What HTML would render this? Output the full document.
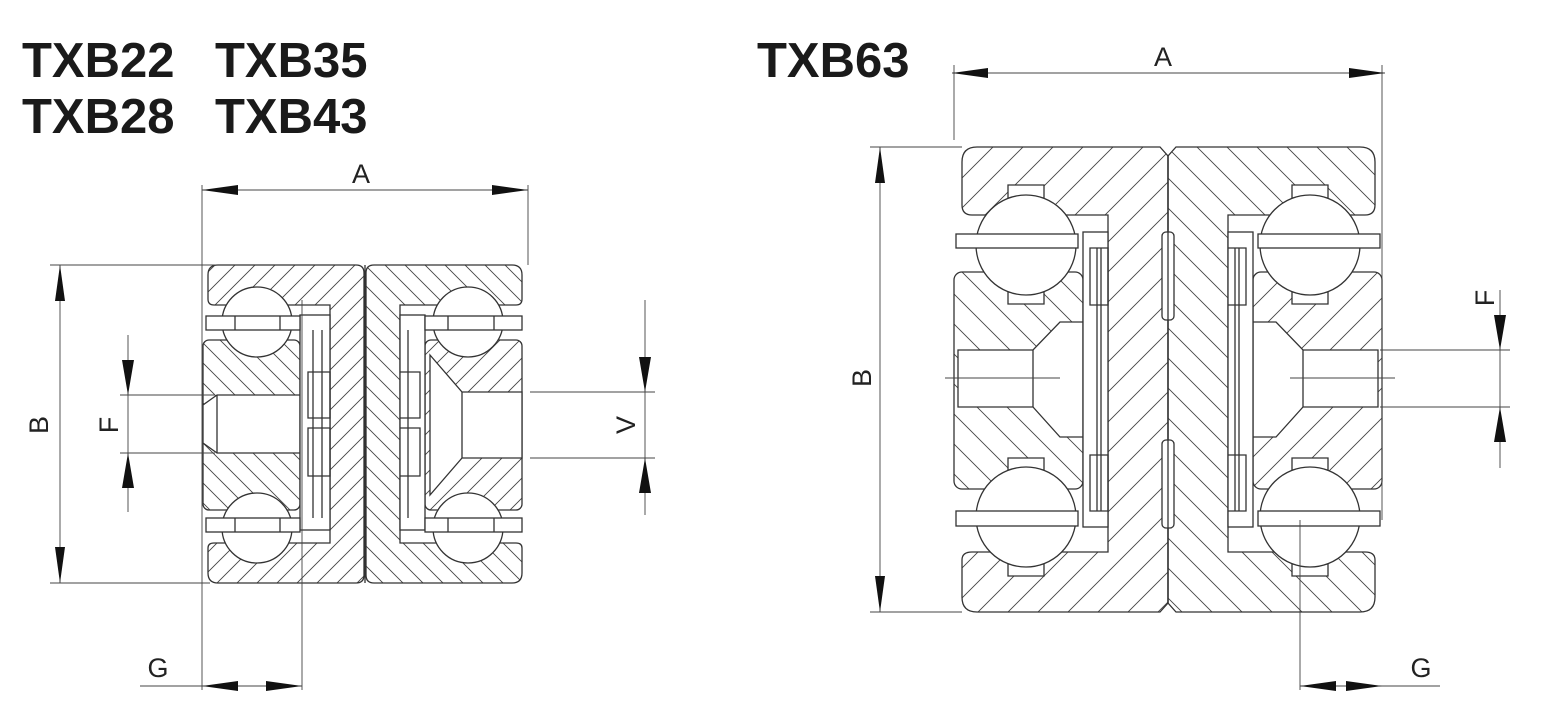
<!DOCTYPE html>
<html><head><meta charset="utf-8"><style>
html,body{margin:0;padding:0;background:#fff}
svg{display:block}
.t{font-family:"Liberation Sans",sans-serif;font-weight:bold;font-size:49px;fill:#1a1a1a}
.d{font-family:"Liberation Sans",sans-serif;font-size:27px;fill:#222}
.o{stroke:#333;stroke-width:1.3;fill:none}
.w{stroke:#333;stroke-width:1.3;fill:#fff}
.dl{stroke:#444;stroke-width:0.9;fill:none}
</style></head><body>
<svg width="1541" height="717" viewBox="0 0 1541 717" xmlns="http://www.w3.org/2000/svg">
<defs>
<pattern id="hf" patternUnits="userSpaceOnUse" width="20" height="20"><path d="M-4,24 L24,-4 M-4,4 L4,-4 M16,24 L24,16" stroke="#444" stroke-width="0.9"/></pattern>
<pattern id="hb" patternUnits="userSpaceOnUse" width="20" height="20"><path d="M-4,-4 L24,24 M-4,16 L4,24 M16,-4 L24,4" stroke="#444" stroke-width="0.9"/></pattern>
<pattern id="Hf" patternUnits="userSpaceOnUse" width="30" height="30"><path d="M-4,34 L34,-4 M-4,4 L4,-4 M26,34 L34,26" stroke="#444" stroke-width="0.9"/></pattern>
<pattern id="Hb" patternUnits="userSpaceOnUse" width="30" height="30"><path d="M-4,-4 L34,34 M-4,26 L4,34 M26,-4 L34,4" stroke="#444" stroke-width="0.9"/></pattern>
<marker id="ar" markerUnits="userSpaceOnUse" markerWidth="36" markerHeight="14" refX="36" refY="7" orient="auto-start-reverse"><path d="M0,2 L36,7 L0,12 Z" fill="#111"/></marker>
</defs>

<text class="t" x="22" y="77">TXB22</text><text class="t" x="215" y="77">TXB35</text>
<text class="t" x="22" y="133">TXB28</text><text class="t" x="215" y="133">TXB43</text>
<text class="t" x="757" y="77">TXB63</text>

<!-- LEFT drawing -->
<path class="o" style="fill:url(#hf)" d="M218,265 H356 Q364,265 364,273 V575 Q364,583 356,583 H218 Q208,583 208,573 V548 Q208,543 214,543 H330 V305 H214 Q208,305 208,299 V275 Q208,265 218,265 Z"/>
<path class="o" style="fill:url(#hb)" d="M374,265 H512 Q522,265 522,275 V299 Q522,305 516,305 H400 V543 H516 Q522,543 522,548 V573 Q522,583 512,583 H374 Q366,583 366,575 V273 Q366,265 374,265 Z"/>
<rect class="o" style="fill:url(#hb)" x="203" y="340" width="97" height="170" rx="6"/>
<path class="w" d="M217,395 L203,405 V443 L217,453 H300 V395 Z"/>
<line class="o" x1="217" y1="395" x2="217" y2="453"/>
<rect class="o" style="fill:url(#hf)" x="425" y="340" width="97" height="170" rx="6"/>
<path class="w" d="M430,355 L462,392 H522 V458 H462 L430,495 Z"/>
<line class="o" x1="462" y1="392" x2="462" y2="458"/>
<rect class="w" x="300" y="315" width="30" height="215"/>
<path class="o" d="M313,330 V518 M322,330 V518 M308,372 H330 V418 H308 Z M308,428 H330 V476 H308 Z"/>
<rect class="w" x="400" y="315" width="25" height="215"/>
<path class="o" d="M408,330 V518 M400,372 H420 V418 H400 M400,428 H420 V476 H400"/>
<circle class="w" cx="257" cy="322" r="35"/><circle class="w" cx="257" cy="528" r="35"/>
<circle class="w" cx="468" cy="322" r="35"/><circle class="w" cx="468" cy="528" r="35"/>
<rect class="w" x="206" y="316" width="94" height="14"/><rect class="w" x="206" y="518" width="94" height="14"/>
<rect class="w" x="425" y="316" width="97" height="14"/><rect class="w" x="425" y="518" width="97" height="14"/>
<path class="o" d="M235,316 V330 M280,316 V330 M235,518 V532 M280,518 V532 M448,316 V330 M494,316 V330 M448,518 V532 M494,518 V532"/>
<line class="o" x1="365" y1="265" x2="365" y2="583"/>
<!-- left dims -->
<path class="dl" d="M202,185 V690 M528,185 V265 M50,265 H215 M50,583 H210 M120,395 H215 M120,453 H215 M530,392 H655 M530,458 H655 M302,300 V690 M128,335 V512 M645,300 V515 M140,686 H202"/>
<line class="dl" x1="202" y1="190" x2="528" y2="190" marker-start="url(#ar)" marker-end="url(#ar)"/>
<line class="dl" x1="60" y1="265" x2="60" y2="583" marker-start="url(#ar)" marker-end="url(#ar)"/>
<line class="dl" x1="202" y1="686" x2="302" y2="686" marker-start="url(#ar)" marker-end="url(#ar)"/>
<path fill="#111" d="M122,360 L128,395 L134,360 Z M122,488 L128,453 L134,488 Z M639,357 L645,392 L651,357 Z M639,493 L645,458 L651,493 Z"/>
<text class="d" x="361" y="183" text-anchor="middle">A</text>
<text class="d" x="158" y="677" text-anchor="middle">G</text>
<text class="d" transform="translate(48,425) rotate(-90)" text-anchor="middle">B</text>
<text class="d" transform="translate(118,425) rotate(-90)" text-anchor="middle">F</text>
<text class="d" transform="translate(635,425) rotate(-90)" text-anchor="middle">V</text>

<!-- RIGHT drawing -->
<path class="o" style="fill:url(#Hf)" d="M977,147 H1160 L1168,156 V603 L1160,612 H977 Q962,612 962,597 V560 Q962,552 972,552 H1108 V215 H972 Q962,215 962,205 V162 Q962,147 977,147 Z"/>
<path class="o" style="fill:url(#Hb)" d="M1176,147 H1360 Q1375,147 1375,162 V205 Q1375,215 1365,215 H1228 V552 H1365 Q1375,552 1375,560 V597 Q1375,612 1360,612 H1176 L1168,603 V156 Z"/>
<rect class="o" style="fill:url(#Hb)" x="954" y="272" width="129" height="217" rx="8"/>
<path class="w" d="M958,350 H1033 L1060,322 H1083 V437 H1060 L1033,407 H958 Z"/>
<line class="o" x1="1033" y1="350" x2="1033" y2="407"/>
<rect class="o" style="fill:url(#Hf)" x="1253" y="272" width="129" height="217" rx="8"/>
<path class="w" d="M1378,350 H1303 L1276,322 H1253 V437 H1276 L1303,407 H1378 Z"/>
<line class="o" x1="1303" y1="350" x2="1303" y2="407"/>
<rect class="w" x="1083" y="232" width="25" height="295"/>
<path class="o" d="M1097,248 V511 M1101,248 V511 M1090,248 H1108 V305 H1090 Z M1090,455 H1108 V511 H1090 Z"/>
<rect class="w" x="1228" y="232" width="25" height="295"/>
<path class="o" d="M1239,248 V511 M1235,248 V511 M1228,248 H1246 V305 H1228 M1228,455 H1246 V511 H1228"/>
<rect class="w" x="1162" y="232" width="12" height="88" rx="4"/>
<rect class="w" x="1162" y="440" width="12" height="88" rx="4"/>
<path class="w" d="M1008,198 V185 H1044 V198 Z M1008,292 V304 H1044 V292 Z M1008,470 V458 H1044 V470 Z M1008,564 V576 H1044 V564 Z M1292,198 V185 H1328 V198 Z M1292,292 V304 H1328 V292 Z M1292,470 V458 H1328 V470 Z M1292,564 V576 H1328 V564 Z"/>
<circle class="w" cx="1026" cy="245" r="50"/><circle class="w" cx="1026" cy="517" r="50"/>
<circle class="w" cx="1310" cy="245" r="50"/><circle class="w" cx="1310" cy="517" r="50"/>
<rect class="w" x="956" y="234" width="122" height="14"/><rect class="w" x="956" y="511" width="122" height="15"/>
<rect class="w" x="1258" y="234" width="122" height="14"/><rect class="w" x="1258" y="511" width="122" height="15"/>
<line class="o" x1="1168" y1="156" x2="1168" y2="603"/>
<!-- right dims -->
<path class="dl" d="M954,65 V140 M1382,65 V520 M870,147 H962 M870,612 H962 M1380,350 H1510 M1380,407 H1510 M1300,520 V690 M1500,290 V468 M1382,686 H1440 M945,378 H1060 M1290,378 H1395"/>
<line class="dl" x1="952" y1="73" x2="1385" y2="73" marker-start="url(#ar)" marker-end="url(#ar)"/>
<line class="dl" x1="880" y1="147" x2="880" y2="612" marker-start="url(#ar)" marker-end="url(#ar)"/>
<line class="dl" x1="1300" y1="686" x2="1382" y2="686" marker-start="url(#ar)" marker-end="url(#ar)"/>
<path fill="#111" d="M1494,315 L1500,350 L1506,315 Z M1494,442 L1500,407 L1506,442 Z"/>
<text class="d" x="1163" y="66" text-anchor="middle">A</text>
<text class="d" x="1421" y="677" text-anchor="middle">G</text>
<text class="d" transform="translate(871,378) rotate(-90)" text-anchor="middle">B</text>
<text class="d" transform="translate(1494,298) rotate(-90)" text-anchor="middle">F</text>
</svg>
</body></html>
